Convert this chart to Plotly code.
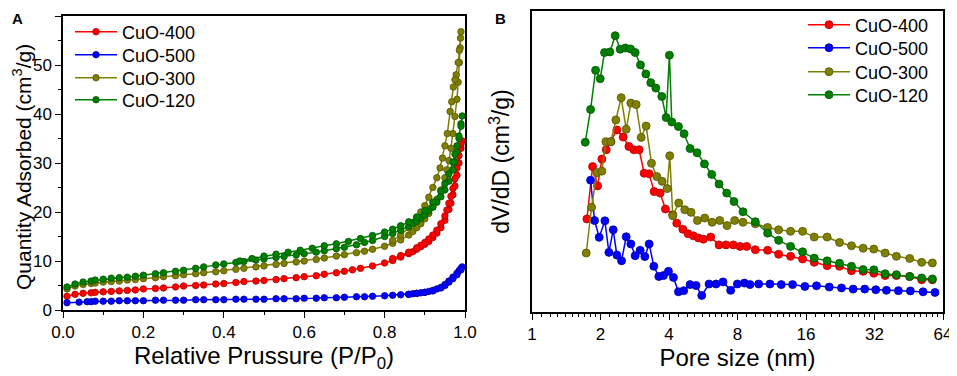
import plotly.graph_objects as go

names = ["CuO-400", "CuO-500", "CuO-300", "CuO-120"]
colors = ["#FF0000", "#0000FF", "#808000", "#008000"]
edge = ["#B00000", "#0000A0", "#555500", "#005500"]

# ---------- Panel A: N2 isotherms (adsorption + desorption) ----------
red_ads_x = [0.01,0.03,0.05,0.07,0.08,0.10,0.12,0.14,0.16,0.18,0.20,0.23,0.25,0.28,0.30,0.33,0.35,0.38,0.40,0.43,0.45,0.48,0.50,0.53,0.55,0.58,0.60,0.63,0.65,0.68,0.70,0.72,0.74,0.77,0.80,0.82,0.84,0.86,0.87,0.88,0.89,0.90,0.91,0.92,0.93,0.94,0.95,0.96,0.965,0.97,0.975,0.98,0.985,0.99,0.993]
red_ads_y = [2.8,3.2,3.4,3.5,3.6,3.7,3.8,3.9,4.0,4.1,4.3,4.4,4.5,4.7,4.9,5.0,5.1,5.3,5.4,5.6,5.8,5.9,6.0,6.2,6.4,6.6,6.8,7.0,7.3,7.6,7.9,8.2,8.5,9.0,9.6,10.1,10.8,11.5,11.9,12.4,12.9,13.4,14.0,14.8,15.7,16.8,18.3,20.5,21.8,23.5,25.3,27.5,30.0,33.0,34.5]
red_des_x = [0.99,0.985,0.98,0.975,0.97,0.965,0.96,0.955,0.95,0.94,0.93,0.92,0.91,0.90,0.89,0.88,0.86,0.84,0.82]
red_des_y = [33.8,31.5,29.0,26.8,24.8,23.2,21.8,20.4,19.2,17.6,16.3,15.3,14.5,13.8,13.2,12.7,11.8,11.1,10.5]

blue_ads_x = [0.01,0.04,0.06,0.07,0.08,0.10,0.12,0.14,0.16,0.18,0.20,0.23,0.25,0.28,0.30,0.33,0.35,0.38,0.40,0.43,0.45,0.48,0.50,0.53,0.55,0.58,0.60,0.63,0.65,0.68,0.70,0.73,0.75,0.77,0.80,0.82,0.84,0.86,0.87,0.88,0.89,0.90,0.91,0.92,0.93,0.94,0.95,0.96,0.97,0.98,0.985,0.99,0.993]
blue_ads_y = [1.5,1.6,1.7,1.7,1.8,1.8,1.8,1.9,1.9,1.9,1.9,2.0,2.0,2.0,2.0,2.1,2.1,2.1,2.1,2.2,2.2,2.2,2.2,2.3,2.3,2.3,2.4,2.4,2.5,2.5,2.6,2.7,2.7,2.8,2.9,3.0,3.1,3.2,3.3,3.4,3.5,3.6,3.8,4.0,4.3,4.6,5.2,5.9,6.7,7.5,8.0,8.5,8.8]
blue_des_x = [0.99,0.98,0.97,0.96,0.95,0.94,0.92,0.90,0.88,0.86]
blue_des_y = [8.2,7.2,6.4,5.7,5.0,4.5,3.9,3.6,3.4,3.2]

olive_ads_x = [0.01,0.03,0.05,0.07,0.08,0.10,0.12,0.14,0.16,0.18,0.20,0.23,0.25,0.28,0.30,0.33,0.35,0.38,0.40,0.43,0.45,0.48,0.50,0.53,0.55,0.58,0.60,0.63,0.65,0.68,0.70,0.73,0.75,0.77,0.80,0.82,0.84,0.86,0.87,0.88,0.89,0.90,0.91,0.92,0.93,0.94,0.95,0.955,0.96,0.965,0.97,0.975,0.98,0.983,0.986,0.988,0.99]
olive_ads_y = [4.3,4.9,5.2,5.4,5.5,5.7,5.8,5.9,6.1,6.2,6.4,6.6,6.8,7.0,7.2,7.4,7.6,7.8,8.0,8.3,8.5,8.8,9.0,9.3,9.5,9.8,10.0,10.3,10.6,11.0,11.3,11.7,12.0,12.4,13.0,13.6,14.3,15.3,16.0,16.8,17.6,18.6,19.7,21.0,22.6,24.5,27.0,28.6,30.5,33.0,36.0,39.5,43.0,46.5,50.5,53.5,56.8]
olive_des_x = [0.989,0.986,0.983,0.978,0.975,0.971,0.967,0.963,0.956,0.950,0.944,0.938,0.93,0.92,0.91,0.90,0.89,0.88,0.86,0.84,0.82]
olive_des_y = [55.5,53.0,50.5,48.0,47.0,45.5,42.5,40.5,36.0,33.5,31.0,29.0,27.0,25.0,23.0,21.3,20.0,18.8,16.8,15.3,14.2]

green_ads_x = [0.01,0.03,0.05,0.07,0.08,0.10,0.12,0.14,0.16,0.18,0.20,0.23,0.25,0.28,0.30,0.33,0.35,0.38,0.40,0.43,0.45,0.48,0.50,0.53,0.55,0.58,0.60,0.63,0.65,0.68,0.70,0.73,0.75,0.77,0.80,0.82,0.84,0.86,0.87,0.88,0.89,0.90,0.91,0.92,0.93,0.94,0.95,0.96,0.97,0.975,0.98,0.985,0.99]
green_ads_y = [4.7,5.3,5.7,5.9,6.1,6.3,6.5,6.6,6.7,6.9,7.1,7.4,7.6,7.9,8.1,8.5,8.8,9.2,9.4,9.7,9.9,10.2,10.4,10.7,10.9,11.2,11.5,11.8,12.1,12.5,12.8,13.3,13.8,14.2,15.0,15.6,16.3,17.1,17.6,18.1,18.7,19.4,20.2,21.0,22.0,23.1,24.5,26.3,28.6,30.2,32.3,35.0,38.0]
green_des_x = [0.993,0.99,0.985,0.98,0.975,0.97,0.96,0.95,0.94,0.92,0.90,0.88,0.86,0.84,0.82,0.80,0.77,0.74,0.71,0.68,0.65,0.62,0.59,0.56,0.53,0.50,0.47,0.44]
green_des_y = [39.6,37.5,35.5,33.5,31.8,30.2,27.8,25.8,24.2,22.0,20.3,19.0,18.0,17.2,16.5,15.9,15.2,14.6,14.0,13.5,13.1,12.6,12.2,11.8,11.4,11.0,10.5,10.0]

# ---------- Panel B: pore size distribution (arbitrary units) ----------
red_psd_x = [1.743,1.846,1.941,2.028,2.119,2.221,2.360,2.516,2.665,2.803,2.957,3.111,3.272,3.441,3.656,3.859,4.156,4.327,4.598,4.852,5.121,5.386,5.665,6.100,6.636,7.122,7.670,8.204,8.777,9.58,10.85,12.13,13.69,15.45,17.39,19.82,22.46,25.35,28.52,31.78,35.63,39.95,45.70,51.59,57.47]
red_psd_y = [30.9,48.3,41.9,50.8,53.9,56.6,60.5,58.1,55.0,53.9,53.9,46.1,45.9,40.0,39.5,34.2,32.3,29.5,27.5,26.0,25.3,24.6,24.2,24.9,22.3,22.3,22.3,21.8,21.8,20.7,20.5,19.2,18.5,17.6,16.5,15.4,15.2,13.7,13.5,12.9,12.1,12.1,11.8,10.7,10.7]

blue_psd_x = [1.809,1.883,1.974,2.091,2.177,2.274,2.360,2.474,2.594,2.719,2.840,2.988,3.132,3.272,3.430,3.608,3.782,3.978,4.184,4.401,4.643,4.951,5.260,5.571,5.999,6.438,6.910,7.466,7.989,8.574,9.076,9.91,11.11,12.46,13.97,15.82,17.80,20.24,22.92,25.78,29.00,32.42,36.10,40.76,46.01,52.30,59.02]
blue_psd_y = [43.8,30.4,24.8,30.3,19.8,27.3,18.9,17.0,25.0,22.6,18.7,20.5,18.4,22.6,15.2,11.8,12.1,13.5,11.5,6.7,7.1,9.1,8.8,5.5,9.3,9.3,10.0,7.2,9.3,9.6,9.1,9.3,9.3,9.1,9.1,8.5,8.7,8.3,8.0,7.6,7.6,7.4,7.2,7.1,7.0,6.7,6.5]

olive_psd_x = [1.731,1.828,1.928,2.028,2.112,2.221,2.336,2.466,2.594,2.719,2.869,3.018,3.174,3.350,3.535,3.732,3.924,4.031,4.156,4.416,4.692,5.001,5.332,5.743,6.183,6.681,7.195,7.775,8.457,9.58,10.85,12.13,13.69,15.45,17.39,19.82,22.46,25.35,28.52,31.78,35.63,39.95,45.70,51.59,57.47]
olive_psd_y = [19.6,34.8,46.3,46.8,56.6,56.6,63.8,71.2,60.7,69.4,68.9,58.0,61.8,49.4,45.0,43.4,41.0,51.9,32.0,36.2,34.0,33.1,30.4,31.2,29.8,30.4,28.7,30.4,29.8,29.3,28.1,27.3,26.8,26.8,24.9,24.9,23.1,22.0,21.2,20.9,19.6,18.5,17.8,16.5,16.3]

green_psd_x = [1.714,1.809,1.903,1.994,2.083,2.199,2.321,2.441,2.576,2.710,2.840,2.998,3.164,3.327,3.500,3.719,3.886,4.017,4.115,4.401,4.659,4.951,5.314,5.724,6.164,6.636,7.171,7.722,8.457,9.58,10.85,12.13,13.69,15.45,17.39,19.82,22.46,25.35,28.52,31.78,35.63,39.95,45.70,51.59,57.47]
green_psd_y = [56.4,67.3,80.3,77.5,86.2,86.4,91.8,87.3,87.7,87.4,86.2,82.1,79.1,76.2,74.4,71.6,64.6,85.3,63.1,61.6,59.2,54.3,52.9,49.2,45.7,42.5,39.5,36.7,33.3,30.0,26.2,23.8,21.8,20.0,17.9,17.0,16.2,15.2,14.1,14.0,12.7,12.4,11.8,11.3,11.0]

iso = [
    (red_ads_x + red_des_x, red_ads_y + red_des_y),
    (blue_ads_x + blue_des_x, blue_ads_y + blue_des_y),
    (olive_ads_x + olive_des_x, olive_ads_y + olive_des_y),
    (green_ads_x + green_des_x, green_ads_y + green_des_y),
]
psd = [
    (red_psd_x, red_psd_y),
    (blue_psd_x, blue_psd_y),
    (olive_psd_x, olive_psd_y),
    (green_psd_x, green_psd_y),
]

FONT = "Liberation Sans, Arial, sans-serif"
W, H = 949, 368   # page body adds an 8 px offset
OFF = 8


def px(v):
    return (v - OFF) / W


def py(v):
    return 1 - (v - OFF) / H


fig = go.Figure()

legA_y = [32, 55, 78, 100]
legB_y = [25, 48, 72, 95]
legend_defs = {}

for i, n in enumerate(names):
    x, y = iso[i]
    lname = "legend" if i == 0 else f"legend{i + 1}"
    legend_defs[lname] = dict(x=px(70), y=py(legA_y[i]), xanchor="left", yanchor="middle",
                              bgcolor="rgba(0,0,0,0)", itemwidth=42,
                              font=dict(size=18, family=FONT, color="black"))
    fig.add_trace(go.Scatter(
        x=x, y=y, mode="lines+markers", name=n, legend=lname,
        line=dict(color=colors[i], width=1.5),
        marker=dict(symbol="circle", size=6.5, color=colors[i],
                    line=dict(color=edge[i], width=0.8)),
        xaxis="x", yaxis="y"))

for i, n in enumerate(names):
    x, y = psd[i]
    lname = f"legend{i + 5}"
    legend_defs[lname] = dict(x=px(803), y=py(legB_y[i]), xanchor="left", yanchor="middle",
                              bgcolor="rgba(0,0,0,0)", itemwidth=42,
                              font=dict(size=18, family=FONT, color="black"))
    fig.add_trace(go.Scatter(
        x=x, y=y, mode="lines+markers", name=n, legend=lname,
        line=dict(color=colors[i], width=1.5),
        marker=dict(symbol="circle", size=8, color=colors[i],
                    line=dict(color=edge[i], width=0.8)),
        xaxis="x2", yaxis="y2"))

minor_log = [b * (1 + k / 10) for b in [1, 2, 4, 8, 16, 32] for k in range(1, 10)]

axis_common = dict(showline=True, mirror=True, linecolor="black", linewidth=1.5,
                   showgrid=False, zeroline=False, ticks="outside", ticklen=6,
                   tickwidth=1.2, tickcolor="black", automargin=False,
                   tickfont=dict(size=17, color="black", family=FONT))

fig.update_layout(
    template="none",
    width=W, height=H,
    margin=dict(l=0, r=0, t=0, b=0, autoexpand=False),
    paper_bgcolor="white", plot_bgcolor="white",
    font=dict(family=FONT, color="black"),
    showlegend=True,
    xaxis=dict(domain=[px(63), px(465)], range=[0, 1], dtick=0.2, tickformat=".1f",
               minor=dict(dtick=0.1, ticks="outside", ticklen=3, tickcolor="black"),
               title=dict(text="Relative Prussure (P/P<sub>0</sub>)", standoff=4,
                          font=dict(size=24, color="black", family=FONT)),
               anchor="y", **axis_common),
    yaxis=dict(domain=[py(310), py(16)], range=[0, 60], dtick=10,
               minor=dict(dtick=5, ticks="outside", ticklen=3, tickcolor="black"),
               anchor="x", **axis_common),
    xaxis2=dict(domain=[px(532), px(943)], type="log", range=[0, 1.80618],
                tickmode="array", tickvals=[1, 2, 4, 8, 16, 32, 64],
                ticktext=["1", "2", "4", "8", "16", "32", "64"],
                minor=dict(tickmode="array", tickvals=minor_log, ticks="outside",
                           ticklen=3, tickcolor="black"),
                title=dict(text="Pore size (nm)", standoff=4,
                           font=dict(size=24, color="black", family=FONT)),
                anchor="y2", **axis_common),
    yaxis2=dict(domain=[py(312), py(11)], range=[0, 100],
                showline=True, mirror=True, linecolor="black", linewidth=1.5,
                showgrid=False, zeroline=False, ticks="", showticklabels=False,
                automargin=False,
                title=dict(text="dV/dD (cm<sup>3</sup>/g)", standoff=14,
                           font=dict(size=23, color="black", family=FONT)),
                anchor="x2"),
    annotations=[
        dict(text="Quantity Adsorbed (cm<sup>3</sup>/g)", textangle=-90,
             x=px(22), y=py(167), xref="paper", yref="paper",
             xanchor="center", yanchor="middle", showarrow=False,
             font=dict(size=21, family=FONT, color="black")),
        dict(text="<b>A</b>", x=px(10), y=1.0, xref="paper", yref="paper",
             xanchor="left", yanchor="top", showarrow=False,
             font=dict(size=15, family=FONT, color="black")),
        dict(text="<b>B</b>", x=px(493), y=1.0, xref="paper", yref="paper",
             xanchor="left", yanchor="top", showarrow=False,
             font=dict(size=15, family=FONT, color="black")),
    ],
    **legend_defs,
)

fig.write_html("out.html")
